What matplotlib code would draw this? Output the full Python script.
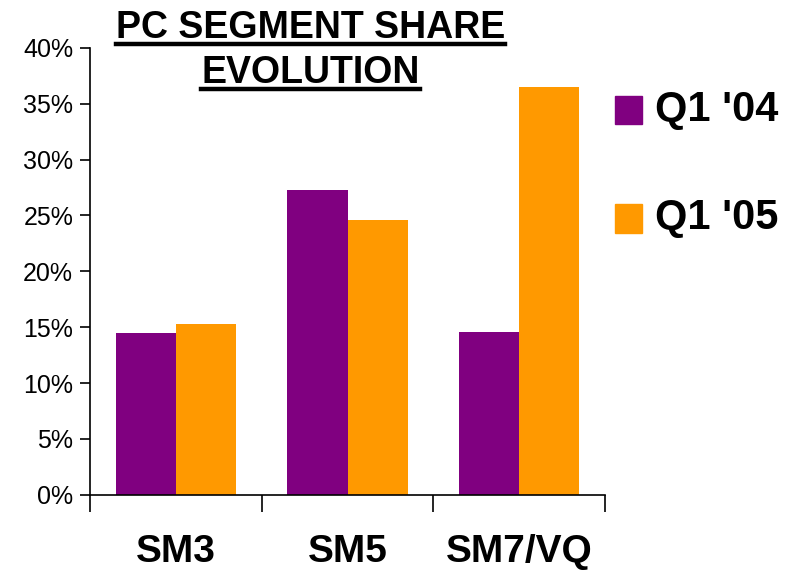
import matplotlib
matplotlib.use("Agg")
import matplotlib.pyplot as plt
from matplotlib.lines import Line2D
from matplotlib.patches import Rectangle
import numpy as np

categories = ["SM3", "SM5", "SM7/VQ"]
q1_04 = [14.5, 27.3, 14.6]
q1_05 = [15.3, 24.6, 36.5]
series_names = ["Q1 '04", "Q1 '05"]
colors = ["#800080", "#FF9900"]
yticks = [0, 5, 10, 15, 20, 25, 30, 35, 40]

plt.rcParams["font.family"] = ["Liberation Sans", "DejaVu Sans"]

fig = plt.figure(figsize=(7.88, 5.70), dpi=100)
ax = fig.add_axes([0.114, 0.132, 0.654, 0.784])

x = np.arange(len(categories))
w = 0.35
ax.bar(x - w / 2, q1_04, w, color=colors[0])
ax.bar(x + w / 2, q1_05, w, color=colors[1])

ax.set_xlim(-0.5, len(categories) - 0.5)
ax.set_ylim(0, 40)
ax.set_yticks(yticks)
ax.set_yticklabels([f"{v}%" for v in yticks], fontsize=18)

# category labels sit between the tick marks
ax.set_xticks(np.arange(len(categories) + 1) - 0.5)
ax.set_xticklabels([])
ax.set_xticks(x, minor=True)
ax.set_xticklabels(categories, minor=True, fontsize=28, fontweight="bold")
ax.tick_params(axis="x", which="minor", length=0, pad=28)
ax.tick_params(axis="x", which="major", length=12, width=1.2, direction="out")
ax.tick_params(axis="y", length=7, width=1.2, direction="out", pad=5)

for side in ["top", "right"]:
    ax.spines[side].set_visible(False)
for side in ["left", "bottom"]:
    ax.spines[side].set_linewidth(1.2)

# title with underline
title_lines = ["PC SEGMENT SHARE", "EVOLUTION"]
title_y = [0.951, 0.872]
texts = []
for line, ty in zip(title_lines, title_y):
    t = fig.text(0.394, ty, line, ha="center", va="center",
                 fontsize=27, fontweight="bold")
    texts.append(t)
fig.canvas.draw()
renderer = fig.canvas.get_renderer()
inv = fig.transFigure.inverted()
for t in texts:
    bb = t.get_window_extent(renderer).transformed(inv)
    uy = bb.y0 + 0.004
    fig.add_artist(Line2D([bb.x0, bb.x1], [uy, uy], transform=fig.transFigure,
                          color="black", linewidth=3.2))

# legend
leg_y = [0.807, 0.617]
for name, c, ly in zip(series_names, colors, leg_y):
    fig.add_artist(Rectangle((0.781, ly - 0.025), 0.034, 0.05,
                             transform=fig.transFigure, color=c))
    fig.text(0.831, ly, name, ha="left", va="center", fontsize=30, fontweight="bold")

fig.savefig("out.png", dpi=100)
